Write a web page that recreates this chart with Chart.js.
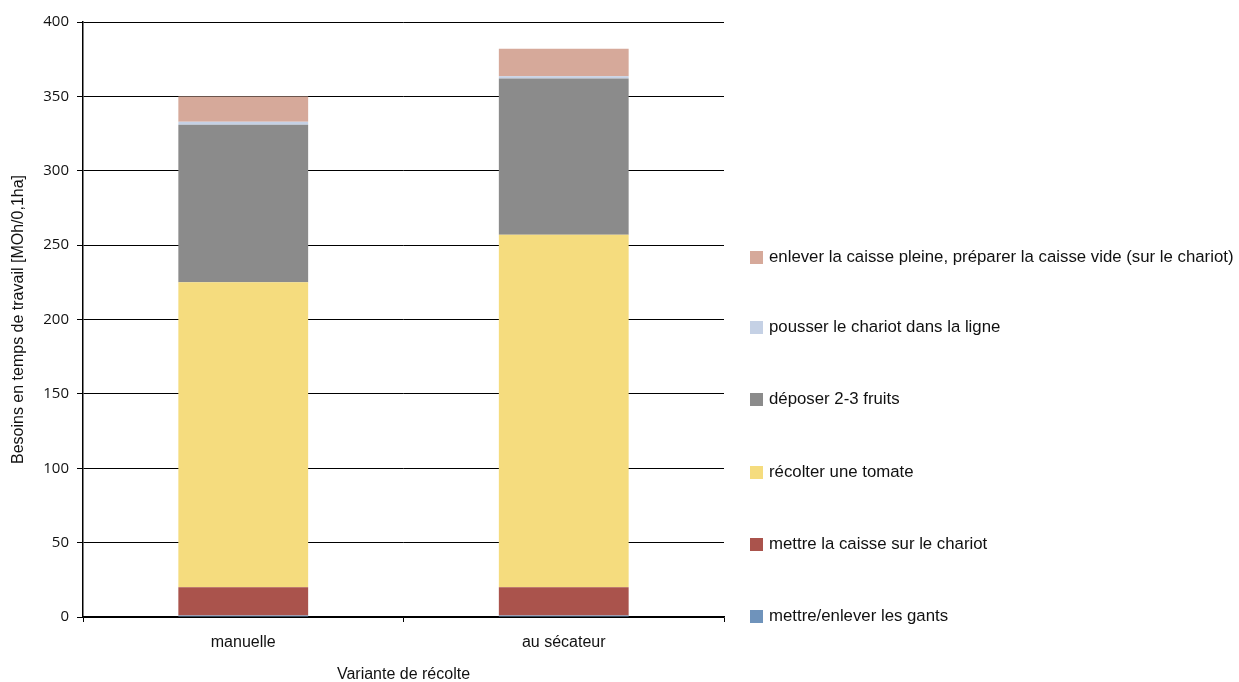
<!DOCTYPE html>
<html><head><meta charset="utf-8">
<script src="https://cdn.jsdelivr.net/npm/chart.js@4"></script>
<style>
html,body{margin:0;padding:0;background:#fff;}
#wrap{position:relative;width:1239px;height:682px;}
#legend{position:absolute;left:750px;top:0;font-family:"Liberation Sans Narrow","Arial Narrow","Liberation Sans",sans-serif;font-size:16.8px;color:#111;}
.li{position:absolute;left:0;white-space:nowrap;display:flex;align-items:center;}
.sw{width:13px;height:13px;margin-right:6px;display:inline-block;}
</style></head>
<body>
<div id="wrap"><canvas id="c" width="1239" height="682"></canvas><div id="legend"></div></div>
<script>
const categories = ["manuelle", "au sécateur"];
const seriesNames = [
  "mettre/enlever les gants",
  "mettre la caisse sur le chariot",
  "récolter une tomate",
  "déposer 2-3 fruits",
  "pousser le chariot dans la ligne",
  "enlever la caisse pleine, préparer la caisse vide (sur le chariot)"
];
const gants = [1, 1];
const caisse = [19, 19];
const recolter = [205, 237];
const deposer = [106, 105];
const pousser = [2, 1.5];
const enlever = [17, 18.5];
const yTicks = [0, 50, 100, 150, 200, 250, 300, 350, 400];
const colors = ["#6F93BB", "#AA534C", "#F5DC7E", "#8B8B8B", "#C5D1E5", "#D6A99A"];
const seriesValues = [gants, caisse, recolter, deposer, pousser, enlever];

const datasets = seriesNames.map((n, i) => ({
  label: n, data: seriesValues[i], backgroundColor: colors[i],
  borderWidth: 0, barPercentage: 0.405, categoryPercentage: 1
}));

const narrow = '"Liberation Sans Narrow","Arial Narrow","Liberation Sans",sans-serif';
new Chart(document.getElementById('c'), {
  type: 'bar',
  data: { labels: categories, datasets },
  options: {
    responsive: false,
    animation: false,
    layout: { padding: { left: 0, right: 515, top: 22, bottom: 0 } },
    plugins: { legend: { display: false }, tooltip: { enabled: false } },
    scales: {
      x: {
        stacked: true,
        grid: { display: true, drawOnChartArea: false, offset: true, color: '#000', tickLength: 5, lineWidth: 1 },
        border: { color: '#000', width: 1.5 },
        ticks: { color: '#111', font: { family: narrow, size: 16 }, padding: 11 },
        title: { display: true, text: 'Variante de récolte', color: '#111', font: { family: narrow, size: 16 }, padding: { top: 6, bottom: -2 } },
        afterFit: s => { s.height = 65; }
      },
      y: {
        stacked: true, min: 0, max: 400,
        afterBuildTicks: s => { s.ticks = yTicks.map(v => ({ value: v })); },
        grid: { color: '#000', lineWidth: 1, tickLength: 6 },
        border: { color: '#000', width: 1.5 },
        ticks: { color: '#111', font: { family: '"Open Sans",sans-serif', size: 15 }, padding: 8 },
        title: { display: true, text: 'Besoins en temps de travail [MOh/0,1ha]', color: '#111', font: { family: narrow, size: 16 }, padding: { top: 9, bottom: 4 } },
        afterFit: s => { s.width = 83; }
      }
    }
  }
});

const leg = document.getElementById('legend');
const legendY = [617, 545, 473, 400, 328, 258];
seriesNames.forEach((n, i) => {
  const d = document.createElement('div');
  d.className = 'li';
  d.style.top = (legendY[i] - 11) + 'px';
  d.innerHTML = '<span class="sw" style="background:' + colors[i] + '"></span><span></span>';
  d.lastChild.textContent = n;
  leg.appendChild(d);
});
</script>
</body></html>
